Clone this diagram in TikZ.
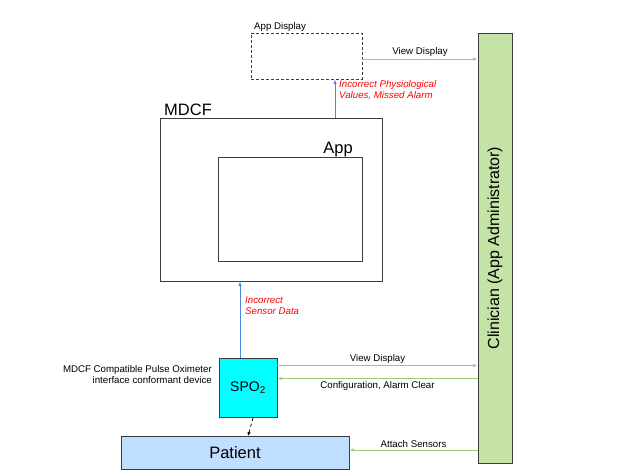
\documentclass[tikz,border=0pt]{standalone}
\usepackage{fontspec}
\setmainfont{Liberation Sans}
\usetikzlibrary{arrows.meta}
\definecolor{clinfill}{HTML}{C5E3A6}
\definecolor{patfill}{HTML}{C0DEFF}
\definecolor{spofill}{HTML}{00FFFF}
\definecolor{flowgreen}{HTML}{9CCC78}
\definecolor{flowblue}{HTML}{4A86E8}
\definecolor{boxline}{HTML}{3C3C3C}
\tikzset{
  box/.style={draw=boxline,line width=0.9pt,inner sep=0pt},
  dashbox/.style={box,dash pattern=on 3pt off 2pt},
  smalltxt/.style={inner sep=0pt,font=\fontsize{9.7}{11}\selectfont},
  bigtxt/.style={inner sep=0pt,font=\fontsize{16.5}{18}\selectfont},
  redtxt/.style={smalltxt,text=red,align=left,font=\fontsize{9.7}{11}\selectfont\itshape},
  blueflow/.style={draw=flowblue,line width=0.8pt,-{Latex[length=4.5pt,width=3.5pt]}},
  greenflow/.style={draw=flowgreen,line width=0.8pt,-{Latex[length=4.5pt,width=3.5pt]}}
}
\begin{document}
\begin{tikzpicture}[x=1pt,y=-1pt]
		\useasboundingbox (0,0) rectangle (633,475);
		% boxes
		\node[dashbox,minimum width=111pt,minimum height=46pt] (disp) at (306.5,56) {};
		\node[box,fill=clinfill,minimum width=34pt,minimum height=430pt] (clin) at (495,248) {};
		\node[box,minimum width=222pt,minimum height=163pt] (mdcf) at (271,199.5) {};
		\node[box,minimum width=144pt,minimum height=104pt] (app) at (290,209) {};
		\node[box,fill=spofill,minimum width=58pt,minimum height=59pt] (spo) at (248,388) {};
		\node[box,fill=patfill,minimum width=228pt,minimum height=33pt] (pat) at (235,453) {};
		% box texts
		\node[smalltxt,anchor=base west] (displbl) at (254,29) {App Display};
		\node[bigtxt,anchor=base west] (mdcflbl) at (164,115) {MDCF};
		\node[bigtxt,anchor=base east] (applbl) at (353,153) {App};
		\node[inner sep=0pt,font=\fontsize{14}{16}\selectfont] (spolbl) at (spo) {SPO\textsubscript{2}};
		\node[bigtxt] (patlbl) at (pat) {Patient};
		\node[inner sep=0pt,rotate=90,font=\fontsize{16}{18}\selectfont] (clinlbl) at (clin) {Clinician (App Administrator)};
		\node[smalltxt,align=right,anchor=base east] (devlbl) at (212,383) {MDCF Compatible Pulse Oximeter\\interface conformant device};
		% flow ends
		\coordinate (c1) at (335,0);
		\coordinate (c2) at (240,0);
		\coordinate (c3) at (0,59);
		\coordinate (c4) at (0,365.5);
		\coordinate (c5) at (0,378.5);
		\coordinate (c6) at (0,450);
		\coordinate (c7) at (253,0);
		\coordinate (c8) at (248,0);
		% flows
		\draw[blueflow] (mdcf.north -| c1) -- (disp.south -| c1);
		\draw[blueflow] (spo.north -| c2) -- (mdcf.south -| c2);
		\draw[greenflow] (disp.east |- c3) -- node[smalltxt,above=2pt] (vd1) {View Display} (clin.west |- c3);
		\draw[greenflow] (spo.east |- c4) -- node[smalltxt,above=2pt] (vd2) {View Display} (clin.west |- c4);
		\draw[greenflow] (clin.west |- c5) -- node[smalltxt,below=2.5pt] (cfg) {Configuration, Alarm Clear} (spo.east |- c5);
		\draw[greenflow] (clin.west |- c6) -- node[smalltxt,above=2.5pt] (att) {Attach Sensors} (pat.east |- c6);
		\draw[dashed,line width=0.8pt,-{Latex[length=4pt,width=3.5pt]}] (spo.south -| c7) -- (pat.north -| c8);
		% error labels
		\node[redtxt,anchor=base west] (err1) at (339,98) {Incorrect Physiological\\Values, Missed Alarm};
		\node[redtxt,anchor=base west] (err2) at (245,314) {Incorrect\\Sensor Data};
	\end{tikzpicture}
\end{document}
